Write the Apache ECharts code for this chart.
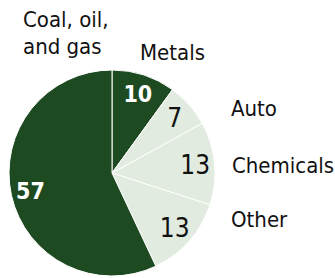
<!DOCTYPE html>
<html>
<head>
<meta charset="utf-8">
<script src="https://cdn.jsdelivr.net/npm/echarts@6/dist/echarts.min.js"></script>
<style>
  html, body { margin: 0; padding: 0; background: #fff; }
  #chart { width: 335px; height: 278px; }
</style>
</head>
<body>
<div id="chart"></div>
<script>
// ----- data -----
var names = ['Metals', 'Auto', 'Chemicals', 'Other', 'Coal, oil,\nand gas'];
var values = [10, 7, 13, 13, 57];
var dark = [true, false, false, false, true];

// outer label anchor points (left, middle)
var labelPos = [[140, 52], [231, 108], [232, 165], [231, 219], [23, 33]];

var font = '"DejaVu Sans Condensed", "Liberation Sans Narrow", sans-serif';
var green = '#1d4a20';
var pale = '#e1ebdf';

var chart = echarts.init(document.getElementById('chart'), null, { renderer: 'svg' });

chart.setOption({
  animation: false,
  series: [{
    // slices + outside names
    type: 'pie',
    center: [112, 173],
    radius: [0, 103],
    startAngle: 90,
    clockwise: true,
    silent: true,
    avoidLabelOverlap: false,
    itemStyle: { borderColor: '#fff', borderWidth: 1 },
    data: values.map(function(v, i) {
      return { name: names[i], value: v, itemStyle: { color: dark[i] ? green : pale } };
    }),
    label: {
      show: true,
      position: 'outside',
      formatter: '{b}',
      fontFamily: font,
      fontSize: 22,
      lineHeight: 27,
      color: '#111',
      align: 'left',
      overflow: 'none'
    },
    labelLine: { show: false },
    labelLayout: function(p) {
      return {
        x: labelPos[p.dataIndex][0], y: labelPos[p.dataIndex][1],
        align: 'left', verticalAlign: 'middle', hideOverlap: false, moveOverlap: null
      };
    }
  }, {
    // value numbers inside
    type: 'pie',
    center: [112, 173],
    radius: [58, 103],
    startAngle: 90,
    clockwise: true,
    silent: true,
    itemStyle: { color: 'rgba(0,0,0,0)' },
    data: values.map(function(v, i) {
      return {
        name: names[i], value: v,
        label: dark[i]
          ? { color: '#fff', fontWeight: 'bold', fontSize: 23 }
          : { color: '#111', fontWeight: 'normal', fontSize: 26 }
      };
    }),
    label: {
      show: true,
      position: 'inside',
      formatter: '{c}',
      fontFamily: font
    },
    labelLine: { show: false }
  }]
});
</script>
</body>
</html>
